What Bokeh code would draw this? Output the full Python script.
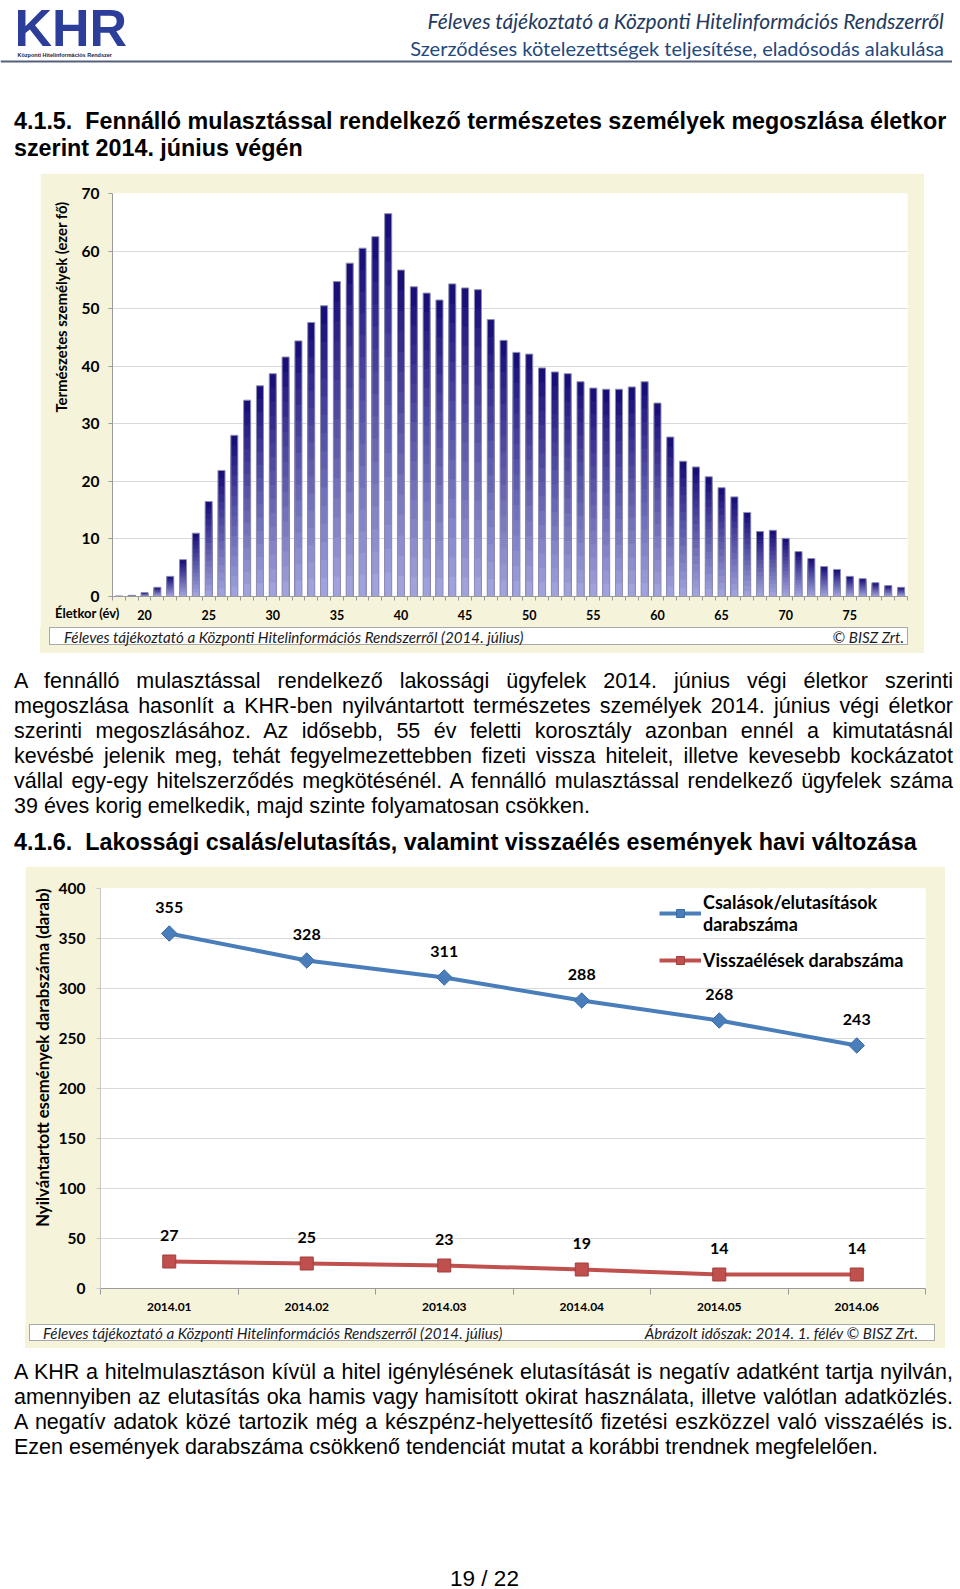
import numpy as np
from bokeh.plotting import figure
from bokeh.models import (Range1d, FixedTicker, LabelSet, ColumnDataSource,
                          Div, Spacer, Legend, LegendItem, Span, Title)
from bokeh.layouts import column, row
from bokeh.core.properties import value
from bokeh.embed import file_html
from bokeh.resources import INLINE

# ---------------- data ----------------
ages = list(range(18, 80))
defaulters_thousand = [
    0.1, 0.2, 0.7, 1.6, 3.5, 6.4, 11.0, 16.5, 21.9, 28.0,
    34.1, 36.6, 38.7, 41.6, 44.4, 47.6, 50.5, 54.7, 57.9, 60.5,
    62.5, 66.5, 56.7, 53.8, 52.7, 51.5, 54.3, 53.6, 53.3, 48.1,
    44.5, 42.4, 42.1, 39.7, 39.0, 38.7, 37.3, 36.2, 36.0, 36.0,
    36.4, 37.3, 33.6, 27.7, 23.5, 22.5, 20.8, 18.9, 17.3, 14.6,
    11.3, 11.5, 10.1, 7.8, 6.6, 5.2, 4.7, 3.5, 3.1, 2.4, 1.9, 1.6]
age_tick_labels = [20, 25, 30, 35, 40, 45, 50, 55, 60, 65, 70, 75]
thousand_ticks = [0, 10, 20, 30, 40, 50, 60, 70]

months = ["2014.01", "2014.02", "2014.03", "2014.04", "2014.05", "2014.06"]
fraud_rejections = [355, 328, 311, 288, 268, 243]
misuse_events = [27, 25, 23, 19, 14, 14]
count_ticks = [0, 50, 100, 150, 200, 250, 300, 350, 400]

header_line1 = "Féleves tájékoztató a Központi Hitelinformációs Rendszerről"
header_line2 = "Szerződéses kötelezettségek teljesítése, eladósodás alakulása"
title1_lines = ["4.1.5.&nbsp; Fennálló mulasztással rendelkező természetes személyek megoszlása életkor",
                "szerint 2014. június végén"]
title2 = "4.1.6.&nbsp; Lakossági csalás/elutasítás, valamint visszaélés események havi változása"
para1_lines = [
    "A fennálló mulasztással rendelkező lakossági ügyfelek 2014. június végi életkor szerinti",
    "megoszlása hasonlít a KHR-ben nyilvántartott természetes személyek 2014. június végi életkor",
    "szerinti megoszlásához. Az idősebb, 55 év feletti korosztály azonban ennél a kimutatásnál",
    "kevésbé jelenik meg, tehát fegyelmezettebben fizeti vissza hiteleit, illetve kevesebb kockázatot",
    "vállal egy-egy hitelszerződés megkötésénél. A fennálló mulasztással rendelkező ügyfelek száma",
    "39 éves korig emelkedik, majd szinte folyamatosan csökken."]
para2_lines = [
    "A KHR a hitelmulasztáson kívül a hitel igénylésének elutasítását is negatív adatként tartja nyilván,",
    "amennyiben az elutasítás oka hamis vagy hamisított okirat használata, illetve valótlan adatközlés.",
    "A negatív adatok közé tartozik még a készpénz-helyettesítő fizetési eszközzel való visszaélés is.",
    "Ezen események darabszáma csökkenő tendenciát mutat a korábbi trendnek megfelelően."]
source_note = "Féleves tájékoztató a Központi Hitelinformációs Rendszerről (2014. július)"
copyright1 = "© BISZ Zrt."
copyright2 = "Ábrázolt időszak: 2014. 1. félév © BISZ Zrt."
age_axis_name = "Életkor (év)"
page_number = "19 / 22"

CREAM = "#f5f3da"
DIV_W = 953
TEXT_W = 939
BODY_FONT = "'Liberation Sans', Arial, sans-serif"


def bare_fig(w, h):
    f = figure(width=w, height=h, x_range=Range1d(0, w), y_range=Range1d(h, 0),
               x_axis_location=None, y_axis_location=None, toolbar_location=None,
               output_backend="svg", min_border=0, outline_line_color=None)
    f.grid.visible = False
    return f


# ---------------- header ----------------
hdr = bare_fig(952, 100)
hdr.text(x=[14], y=[27], text=["KHR"], text_font=value("Liberation Sans"), text_font_style="bold",
         text_font_size="52px", text_color="#2d3e9a", text_baseline="middle")
hdr.text(x=[17], y=[54], text=["Központi Hitelinformációs Rendszer"], text_font=value("Liberation Sans"),
         text_font_style="bold", text_font_size="5.5px", text_color="#1a1a40", text_baseline="middle")
hdr.text(x=[943.5], y=[20.3], text=[header_line1], text_font=value("Lato"), text_font_style="italic",
         text_font_size="21px", text_color="#243a5e", text_align="right", text_baseline="middle")
hdr.text(x=[943.5], y=[47], text=[header_line2], text_font=value("Lato"),
         text_font_size="20px", text_color="#1f497d", text_align="right", text_baseline="middle")
hdr.add_layout(Span(location=61, dimension="width", line_color="#55617c", line_width=2))

# ---------------- text blocks ----------------
def text_div(h, html):
    return Div(width=DIV_W, height=h, text=html, margin=(0, 0, 0, 0))


title1_div = text_div(73,
    f'<div style="font-family:{BODY_FONT};font-weight:bold;font-size:23.3px;line-height:27px;'
    f'padding:7.5px 0 0 14px;white-space:nowrap;color:#000;">' + "<br>".join(title1_lines) + '</div>')


def para_html(lines, pad_top):
    parts = []
    for i, ln in enumerate(lines):
        align = "left" if i == len(lines) - 1 else "justify"
        parts.append(f'<div style="width:{TEXT_W}px;text-align:justify;text-align-last:{align};">{ln}</div>')
    return (f'<div style="width:{DIV_W}px;font-family:{BODY_FONT};font-size:21.5px;line-height:25px;color:#000;'
            f'padding:{pad_top}px 0 0 14px;">' + "".join(parts) + '</div>')


para1_div = text_div(169, para_html(para1_lines, 15.5))
title2_div = text_div(44,
    f'<div style="font-family:{BODY_FONT};font-weight:bold;font-size:23.3px;line-height:27px;'
    f'padding:6.5px 0 0 14px;white-space:nowrap;color:#000;">{title2}</div>')
para2_div = text_div(212, para_html(para2_lines, 11.5))
pnum_div = text_div(28,
    f'<div style="box-sizing:border-box;width:{DIV_W}px;font-family:{BODY_FONT};font-size:22.5px;'
    f'line-height:21px;text-align:center;padding:7.5px 0 0 16px;color:#000;">{page_number}</div>')


def caption_div(w, h, box_left, box_w, box_h, text_left, text_right, right_text):
    html = (f'<div style="position:relative;width:{w}px;height:{h}px;background:{CREAM};">'
            f'<div style="position:absolute;left:{box_left}px;top:0px;width:{box_w}px;height:{box_h}px;'
            f'background:#fff;border:1px solid #a8a8a8;"></div>'
            f'<div style="position:absolute;left:{text_left}px;top:0px;line-height:{box_h + 2}px;'
            f'font-family:Lato;font-style:italic;font-size:15.2px;color:#1a1a1a;white-space:nowrap;">{source_note}</div>'
            f'<div style="position:absolute;right:{text_right}px;top:0px;line-height:{box_h + 2}px;'
            f'font-family:Lato;font-style:italic;font-size:15.2px;color:#1a1a1a;white-space:nowrap;">{right_text}</div>'
            '</div>')
    return Div(width=w, height=h, text=html, margin=(0, 0, 0, 0))


# ---------------- chart 1: bars ----------------
W1, H1 = 884, 454
L1, R1, T1, B1 = 72, 17, 20, 31
p1 = figure(width=W1, height=H1, x_range=Range1d(ages[0] - 0.5, ages[-1] + 0.5),
            y_range=Range1d(0, thousand_ticks[-1]), output_backend="svg", toolbar_location=None,
            min_border_left=L1, min_border_right=R1, min_border_top=T1, min_border_bottom=B1,
            outline_line_color=None, border_fill_color=CREAM, background_fill_color="#ffffff")

N_SLICES = 16
light = np.array([0xa3, 0xa7, 0xdf], dtype=float)
dark = np.array([0x15, 0x0a, 0x76], dtype=float)
sx, stop, scol = [], [], []
for k in range(N_SLICES - 1, -1, -1):
    t = (k + 0.5) / N_SLICES
    c = light * (1 - t) + dark * t
    col = "#%02x%02x%02x" % tuple(int(round(v)) for v in c)
    for a, v in zip(ages, defaulters_thousand):
        sx.append(a)
        stop.append(v * (k + 1) / N_SLICES)
        scol.append(col)
p1.vbar(x=sx, bottom=0, top=stop, width=0.55, fill_color=scol, line_color=None)
p1.vbar(x=ages, bottom=0, top=defaulters_thousand, width=0.55, fill_color=None,
        line_color="#8f8fae", line_width=1)

p1.xgrid.visible = False
yt1 = FixedTicker(ticks=thousand_ticks, minor_ticks=[])
p1.yaxis.ticker = yt1
p1.ygrid.ticker = yt1
p1.ygrid.grid_line_color = "#d9d9d9"
p1.ygrid.grid_line_width = 1.2
p1.xaxis.ticker = FixedTicker(ticks=age_tick_labels,
                              minor_ticks=[a - 0.5 for a in ages] + [ages[-1] + 0.5])
for ax in (p1.xaxis, p1.yaxis):
    ax.axis_line_color = "#9a9a9a"
    ax.major_label_text_font = "Lato"
    ax.major_label_text_font_style = "bold"
    ax.major_label_text_color = "#000000"
p1.xaxis.major_tick_line_color = None
p1.xaxis.major_tick_out = 4
p1.xaxis.major_tick_in = 0
p1.xaxis.minor_tick_out = 4
p1.xaxis.minor_tick_in = 0
p1.xaxis.minor_tick_line_color = "#9a9a9a"
p1.xaxis.major_label_text_font_size = "12.5px"
p1.xaxis.major_label_standoff = 9
p1.yaxis.major_tick_out = 4
p1.yaxis.major_tick_in = 0
p1.yaxis.major_tick_line_color = "#9a9a9a"
p1.yaxis.minor_tick_line_color = None
p1.yaxis.major_label_text_font_size = "15.5px"
p1.yaxis.major_label_standoff = 9

p1.add_layout(Title(text="Természetes személyek (ezer fő)", align="right", offset=8, standoff=17,
                    text_font="Lato", text_font_style="bold", text_font_size="14.9px",
                    text_color="#000000"), "left")

# x-axis name sits beside the tick labels, overlapping the bottom border of the chart
age_name_div = Div(width=72, height=16, margin=(-22, 0, 6, 15), text=(
    f'<div style="font-family:Lato;font-weight:bold;font-size:13px;line-height:16px;'
    f'white-space:nowrap;color:#000;">{age_axis_name}</div>'))
cap1 = caption_div(W1, 26, 9, 859, 18, 24, 20, copyright1)
chart1 = row(Spacer(width=40, height=480), column(p1, age_name_div, cap1))

# ---------------- chart 2: lines ----------------
W2, H2 = 920, 458
L2, R2, T2, B2 = 75, 20, 22, 36
x_pos = [i + 0.5 for i in range(len(months))]
p2 = figure(width=W2, height=H2, x_range=Range1d(0, len(months)), y_range=Range1d(0, count_ticks[-1]),
            output_backend="svg", toolbar_location=None,
            min_border_left=L2, min_border_right=R2, min_border_top=T2, min_border_bottom=B2,
            outline_line_color=None, border_fill_color=CREAM, background_fill_color="#ffffff")
src2 = ColumnDataSource(dict(x=x_pos, fraud=fraud_rejections, misuse=misuse_events,
                             fraud_lbl=[str(v) for v in fraud_rejections],
                             misuse_lbl=[str(v) for v in misuse_events]))
BLUE, RED = "#4a7ebb", "#c0504d"
r1 = p2.line("x", "fraud", source=src2, line_color=BLUE, line_width=4, line_join="round")
r1m = p2.scatter("x", "fraud", source=src2, marker="square", angle=np.pi / 4, size=11,
                 fill_color=BLUE, line_color="#3d6ba6", line_width=1)
r2 = p2.line("x", "misuse", source=src2, line_color=RED, line_width=4, line_join="round")
r2m = p2.scatter("x", "misuse", source=src2, marker="square", size=13,
                 fill_color=RED, line_color="#a23e3b", line_width=1)
for col in ("fraud", "misuse"):
    p2.add_layout(LabelSet(x="x", y=col, text=col + "_lbl", source=src2, y_offset=26,
                           text_font=value("Lato"), text_font_style="bold", text_font_size="16px",
                           text_align="center", text_baseline="middle", text_color="#000000"))

p2.xgrid.visible = False
yt2 = FixedTicker(ticks=count_ticks, minor_ticks=[])
p2.yaxis.ticker = yt2
p2.ygrid.ticker = yt2
p2.ygrid.grid_line_color = "#d9d9d9"
p2.ygrid.grid_line_width = 1.2
p2.xaxis.ticker = FixedTicker(ticks=x_pos, minor_ticks=list(range(len(months) + 1)))
p2.xaxis.major_label_overrides = {x: m for x, m in zip(x_pos, months)}
for ax in (p2.xaxis, p2.yaxis):
    ax.major_label_text_font = "Lato"
    ax.major_label_text_font_style = "bold"
    ax.major_label_text_color = "#000000"
p2.xaxis.axis_line_color = "#9a9a9a"
p2.yaxis.axis_line_color = "#c8c8c8"
p2.xaxis.major_tick_line_color = None
p2.xaxis.major_tick_out = 6
p2.xaxis.major_tick_in = 0
p2.xaxis.minor_tick_out = 6
p2.xaxis.minor_tick_in = 0
p2.xaxis.minor_tick_line_color = "#9a9a9a"
p2.xaxis.major_label_text_font_size = "12px"
p2.xaxis.major_label_standoff = 8
p2.yaxis.major_tick_out = 4
p2.yaxis.major_tick_in = 0
p2.yaxis.major_tick_line_color = "#c8c8c8"
p2.yaxis.minor_tick_line_color = None
p2.yaxis.major_label_text_font_size = "15.5px"
p2.yaxis.major_label_standoff = 11

p2.add_layout(Title(text="Nyilvántartott események darabszáma (darab)", align="right", offset=0,
                    standoff=5, text_font="Lato", text_font_style="bold", text_font_size="16.7px",
                    text_color="#000000"), "left")

legend = Legend(items=[LegendItem(label="Csalások/elutasítások\ndarabszáma", renderers=[r1, r1m]),
                       LegendItem(label="Visszaélések darabszáma", renderers=[r2, r2m])],
                location=(559, 317), glyph_width=42, glyph_height=20, label_standoff=2,
                padding=0, spacing=14, margin=0, background_fill_alpha=0, border_line_color=None,
                label_text_font="Lato", label_text_font_style="bold", label_text_font_size="18px",
                label_text_color="#000000")
p2.add_layout(legend)

cap2 = caption_div(W2, 24, 4, 906, 17, 18, 27, copyright2)
chart2 = row(Spacer(width=25, height=482), column(p2, cap2))

page = column(hdr, title1_div, chart1, para1_div, title2_div, chart2, para2_div, pnum_div)

open("out.html", "w", encoding="utf-8").write(file_html(page, INLINE))
